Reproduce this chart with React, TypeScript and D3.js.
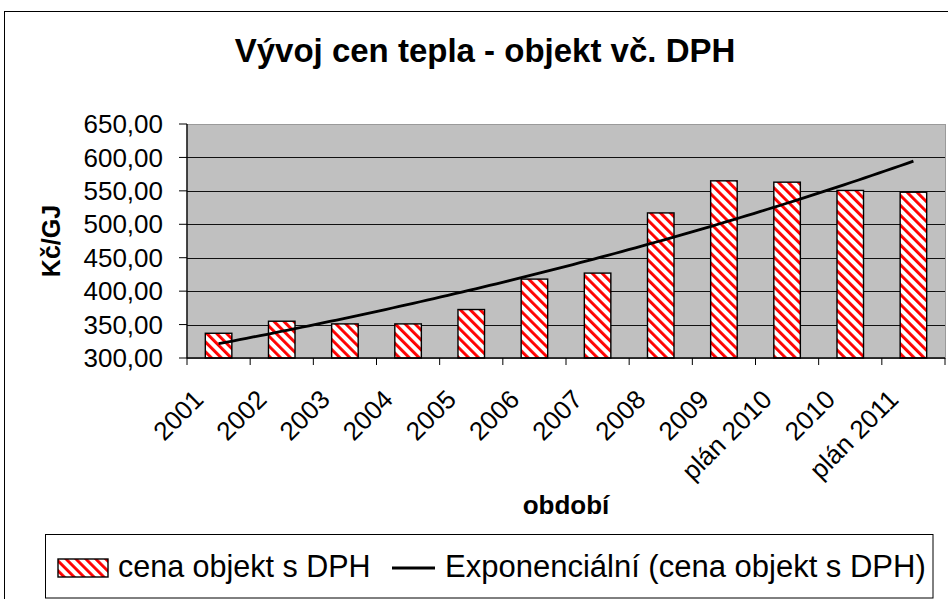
import React from 'react';
import * as d3 from 'd3';

const categories = ['2001', '2002', '2003', '2004', '2005', '2006', '2007', '2008', '2009', 'plán 2010', '2010', 'plán 2011'];
const values = [337, 355, 351, 351, 372.5, 418, 427, 517, 565, 563, 550.6, 548];
const yTicks = [300, 350, 400, 450, 500, 550, 600, 650];
const titleText = 'Vývoj cen tepla - objekt vč. DPH';
const yTitle = 'Kč/GJ';
const xTitle = 'období';
const seriesName = 'cena objekt s DPH';
const trendName = 'Exponenciální (cena objekt s DPH)';

const W = 948;
const H = 599;
const plot = { left: 187, right: 945, top: 124, bottom: 358 };
const FONT = 'Arial, "Liberation Sans", Helvetica, sans-serif';

export default function App() {
  const x = d3.scaleBand<string>().domain(categories).range([plot.left, plot.right]).paddingInner(0).paddingOuter(0);
  const y = d3.scaleLinear().domain([300, 650]).range([plot.bottom, plot.top]);
  const bw = x.bandwidth() * 0.42;
  const fmt = (v: number) => d3.format('.2f')(v).replace('.', ',');

  // exponential trendline (least squares on ln values), as Excel computes it
  const n = values.length;
  const xs = values.map((_, i) => i + 1);
  const ls = values.map((v) => Math.log(v));
  const mx = d3.mean(xs) as number;
  const ml = d3.mean(ls) as number;
  const b = d3.sum(xs.map((xi, i) => (xi - mx) * (ls[i] - ml))) / d3.sum(xs.map((xi) => (xi - mx) ** 2));
  const a = Math.exp(ml - b * mx);
  const trendPts = d3.range(0, 101).map((k) => {
    const t = 1 + (k / 100) * (n - 1);
    return [t, a * Math.exp(b * t)] as [number, number];
  });
  const step = x.step();
  const tx = (t: number) => plot.left + (t - 0.5) * step;
  const line = d3.line<[number, number]>().x((d) => tx(d[0])).y((d) => y(d[1]));

  return (
    <svg width={W} height={H} style={{ position: 'absolute', left: 0, top: 0, display: 'block', background: '#fff' }} fontFamily={FONT}>
      <defs>
        <pattern id="stripes" patternUnits="userSpaceOnUse" width={7} height={7} patternTransform="rotate(-45)">
          <rect x={0} y={0} width={7} height={7} fill="#fff" />
          <rect x={0} y={0} width={2.9} height={7} fill="#ff0000" />
        </pattern>
      </defs>
      <rect x={0} y={0} width={W} height={H} fill="#fff" />
      <rect x={4.5} y={11.5} width={1000} height={1000} fill="#fff" stroke="#000" strokeWidth={1} />

      <text x={485} y={62} textAnchor="middle" fontSize={33} fontWeight="bold">{titleText}</text>

      <rect x={plot.left} y={plot.top + 0.5} width={plot.right - plot.left + 0.5} height={plot.bottom - plot.top} fill="#c0c0c0" stroke="#9a9a9a" strokeWidth={1} />
      {yTicks.filter((t) => t > 300 && t < 650).map((t) => (
        <line key={t} x1={plot.left} x2={plot.right} y1={Math.round(y(t)) + 0.5} y2={Math.round(y(t)) + 0.5} stroke="#111" strokeWidth={1} />
      ))}

      {categories.map((c, i) => (
        <rect key={c} x={(x(c) as number) + (x.bandwidth() - bw) / 2} y={y(values[i])} width={bw} height={plot.bottom - y(values[i])} fill="url(#stripes)" stroke="#000" strokeWidth={1.4} />
      ))}

      <path d={line(trendPts) as string} fill="none" stroke="#000" strokeWidth={2.8} />

      {/* axes */}
      <line x1={plot.left} x2={plot.left} y1={plot.top} y2={plot.bottom} stroke="#000" strokeWidth={1.3} />
      <line x1={plot.left} x2={plot.right} y1={plot.bottom} y2={plot.bottom} stroke="#000" strokeWidth={1.3} />
      {yTicks.map((t) => (
        <g key={t}>
          <line x1={plot.left - 8} x2={plot.left} y1={y(t)} y2={y(t)} stroke="#000" strokeWidth={1} />
          <text x={163} y={y(t)} dy="0.35em" textAnchor="end" fontSize={26}>{fmt(t)}</text>
        </g>
      ))}
      {categories.map((c, i) => (
        <line key={'t' + i} x1={plot.left + i * step} x2={plot.left + i * step} y1={plot.bottom} y2={plot.bottom + 7} stroke="#000" strokeWidth={1} />
      ))}
      <line x1={plot.right} x2={plot.right} y1={plot.bottom} y2={plot.bottom + 7} stroke="#000" strokeWidth={1} />
      {categories.map((c) => {
        const cx = (x(c) as number) + x.bandwidth() / 2;
        return (
          <text key={'l' + c} transform={`translate(${cx - 13.5},${plot.bottom + 43}) rotate(-45)`} textAnchor="end" fontSize={26}>{c}</text>
        );
      })}

      <text transform={`translate(60,241) rotate(-90)`} textAnchor="middle" fontSize={25} fontWeight="bold">{yTitle}</text>
      <text x={566} y={514} textAnchor="middle" fontSize={26} fontWeight="bold">{xTitle}</text>

      {/* legend */}
      <rect x={45.5} y={534.5} width={887.5} height={63.5} fill="#fff" stroke="#000" strokeWidth={1} />
      <rect x={58} y={559} width={50} height={18} fill="url(#stripes)" stroke="#000" strokeWidth={1.4} />
      <text x={118} y={577} fontSize={30.5}>{seriesName}</text>
      <line x1={392} x2={435} y1={568} y2={568} stroke="#000" strokeWidth={2.8} />
      <text x={445} y={577} fontSize={31}>{trendName}</text>
    </svg>
  );
}
